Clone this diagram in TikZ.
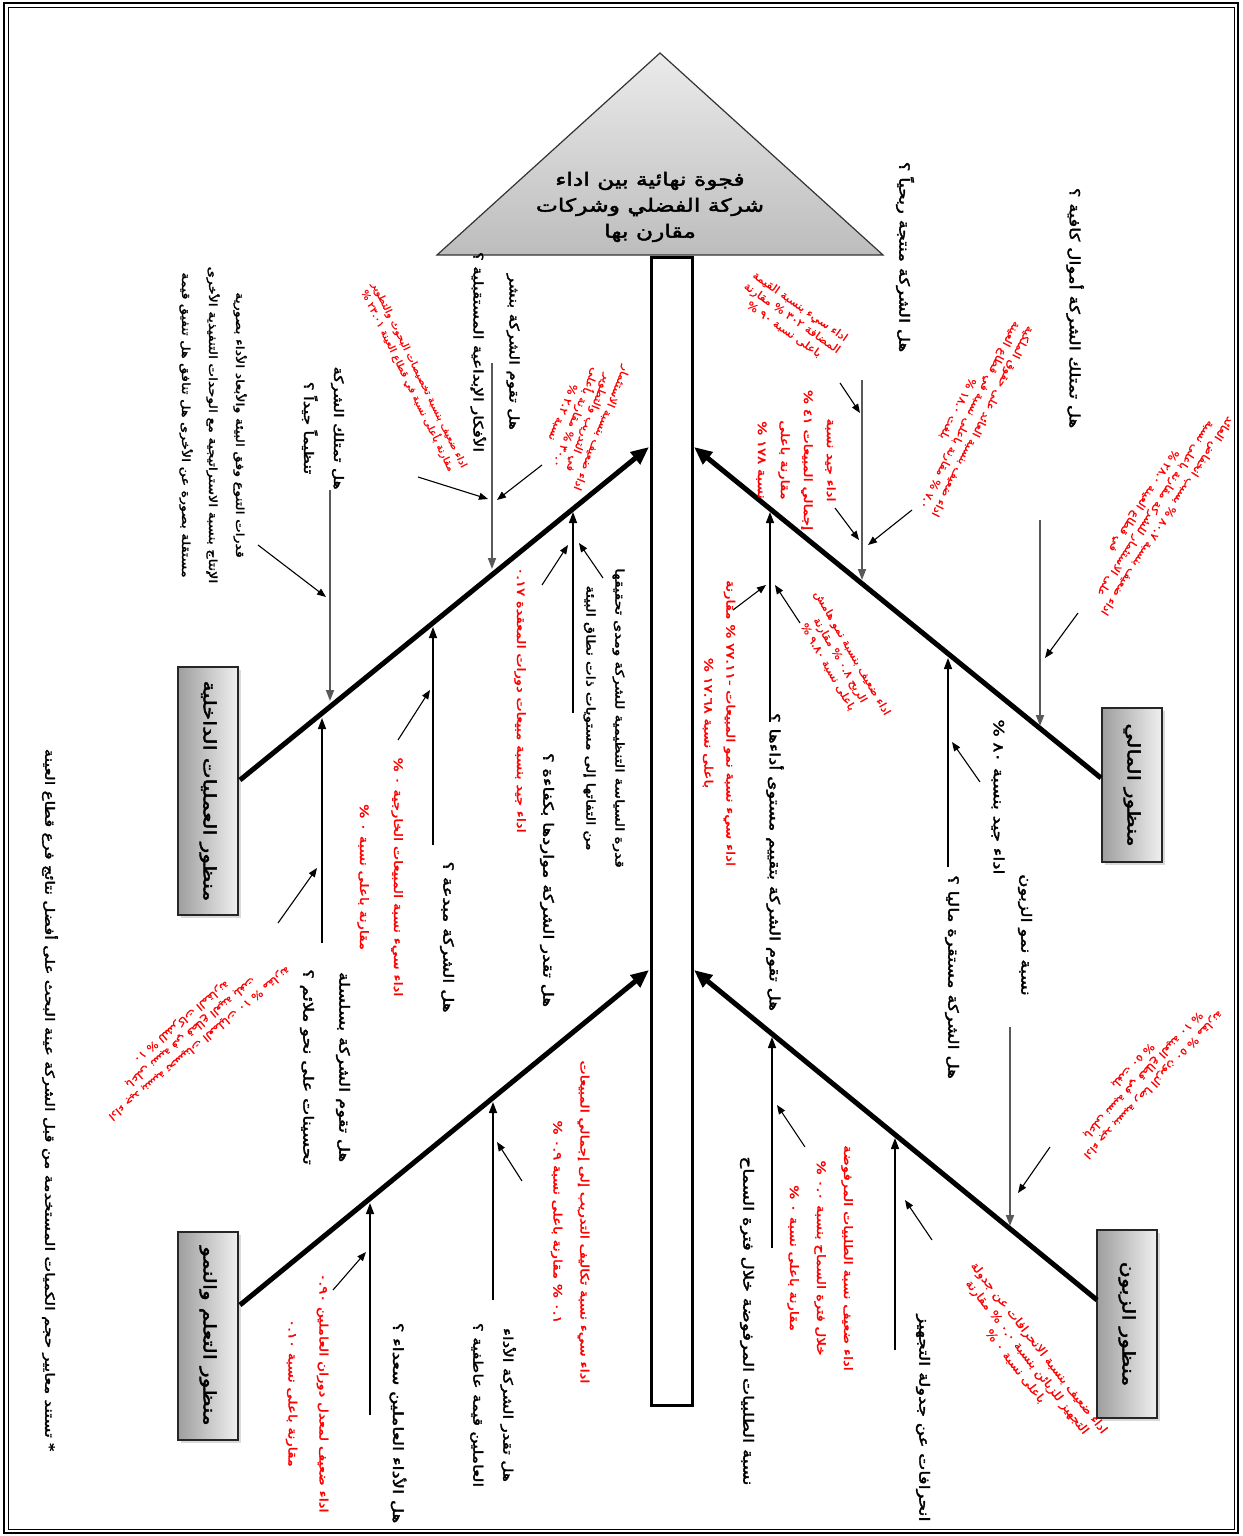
\documentclass[tikz,border=0pt]{standalone}
\usepackage{fontspec}
\usetikzlibrary{arrows.meta,shadows,calc}
\TeXXeTstate=1
\newfontfamily\arfont[Script=Arabic,FakeBold=0.8,FakeStretch=1.15]{DejaVu Sans}
\newfontfamily\arbfont[Script=Arabic,FakeBold=2.5,FakeStretch=1.3]{DejaVu Sans}
\newcommand{\AR}[1]{\beginR #1\endR}
\begin{document}
\begin{tikzpicture}[x=1pt,y=-1pt,
  blk/.style={font=\arbfont\fontsize{14}{32}\selectfont, align=center, inner sep=0pt, rotate=-90},
  redv/.style={font=\arbfont\fontsize{11.5}{25}\selectfont, text=red, align=center, inner sep=0pt, rotate=-90},
  redd/.style={font=\arfont\fontsize{10.5}{14}\selectfont, text=red, align=center, inner sep=0pt},
  bone/.style={line width=5pt, -{Triangle[length=18pt,width=15pt]}},
  rib/.style={line width=1.4pt, -{Triangle[length=11pt,width=8pt]}},
  grib/.style={rib, draw=black!65, line width=1.8pt},
  diag/.style={line width=1.1pt, -{Triangle[length=9pt,width=7pt]}},
  persp/.style={draw=black!85, line width=1.5pt, left color=black!38, right color=black!6,
    inner sep=0pt, font=\arbfont\fontsize{17}{20}\selectfont,
    drop shadow={opacity=0.3, shadow xshift=3pt, shadow yshift=-3pt}},
]
\useasboundingbox (0,0) rectangle (1242,1536);
% frame
\draw[line width=2.5pt] (4,3) rectangle (1238,1533);
\draw[line width=0.8pt] (8,7) rectangle (1234,1529);
% head
\path[draw=black!80, line width=1.2pt, top color=black!8, bottom color=black!26]
  (660,53) -- (883,255) -- (437,255) -- cycle;
\node[font=\arbfont\fontsize{18}{26}\selectfont, align=center, inner sep=0pt] (head) at (650,207)
  {\AR{فجوة نهائية بين اداء}\\ \AR{شركة الفضلي وشركات}\\ \AR{مقارن بها}};
% spine
\draw[line width=3pt, fill=white] (651,257) rectangle (692,1405);
% perspective boxes
\node[persp, minimum width=60pt, minimum height=154pt] (b1) at (1132,785) {\rotatebox{-90}{\AR{منظور المالي}}};
\node[persp, minimum width=60pt, minimum height=188pt] (b2) at (1127,1324) {\rotatebox{-90}{\AR{منظور الزبون}}};
\node[persp, minimum width=60pt, minimum height=248pt] (b3) at (208,791) {\rotatebox{-90}{\AR{منظور العمليات الداخلية}}};
\node[persp, minimum width=60pt, minimum height=208pt] (b4) at (208,1336) {\rotatebox{-90}{\AR{منظور التعلم والنمو}}};
% bones
\coordinate (ulS) at (240,780); \coordinate (ulE) at (649,447);
\coordinate (llS) at (240,1305); \coordinate (llE) at (649,970);
\coordinate (urS) at (1101,778); \coordinate (urE) at (694,447);
\coordinate (lrS) at (1097,1300); \coordinate (lrE) at (694,970);
\draw[bone] (ulS) -- (ulE);
\draw[bone] (llS) -- (llE);
\draw[bone] (urS) -- (urE);
\draw[bone] (lrS) -- (lrE);

% ---------- upper left ----------
\node[blk, font=\arbfont\fontsize{11}{27}\selectfont] (t1) at (213,425) {\AR{قدرات التنوع وفق البيئة والأبعاد الأداء بصورية}\\ \AR{الإنتاج بنسبة الاستراتيجية مع الوحدات التنفيذية الأخرى}\\ \AR{مستقلة بصورة عن الأخرى هل تنافق هل تنفيق قيمة}};
\node[blk, font=\arbfont\fontsize{13}{30}\selectfont] (t2) at (323,428) {\AR{هل تمتلك الشركة}\\ \AR{تنظيماً جيداً ؟}};
\node[blk, font=\arbfont\fontsize{13}{36}\selectfont] (t3) at (495,352) {\AR{هل تقوم الشركة بنشر}\\ \AR{الأفكار الإبداعية المستقبلية ؟}};
\node[redd, font=\arfont\fontsize{9.5}{13}\selectfont, rotate=-64] (r1) at (413,378) {\AR{اداء ضعيف بنسبة تخصيصات البحوث والتطوير}\\ \AR{مقارنة بأعلى نسبة في قطاع العينة ٢٣.٠١ \%}};
\node[redd, rotate=-112] (r2) at (582,420) {\AR{اداء ضعيف بنسبة الاستثمار}\\ \AR{في التدريب والتطوير}\\ \AR{٣٠.٠ \% مقارنة بأعلى}\\ \AR{نسبة ٢.٢ \%}};
\node[blk, font=\arbfont\fontsize{12}{29}\selectfont] (t4) at (604,718) {\AR{قدرة السياسة التنظيمية للشركة ومدى تحقيقها}\\ \AR{من التفاتها إلى مستويات ذات نطاق البيئة}};
\node[redv] (r3) at (520,700) {\AR{اداء جيد بنسبة مبيعات دورات المعقدة ٠.١٧}};
\node[blk] (t5) at (547,880) {\AR{هل تقدر الشركة مواردها بكفاءة ؟}};
\node[blk] (t6) at (447,937) {\AR{هل الشركة مبدعة ؟}};
\node[redv, font=\arbfont\fontsize{11.5}{34}\selectfont] (r4) at (380,877) {\AR{اداء سيء نسبة المبيعات الخارجية ٠ \%}\\ \AR{مقارنة باعلى نسبة ٠ \%}};
\node[blk, font=\arbfont\fontsize{14}{36}\selectfont] (t7) at (325,1067) {\AR{هل تقوم الشركة بسلسلة}\\ \AR{تحسينات على نحو ملائم ؟}};
\node[redd, rotate=-140] (r5) at (190,1032) {\AR{اداء جيد بنسبة تحسينات العمليات ١٠ \% مقارنة}\\ \AR{باعلى نسبة في قطاع العينة بلغت}\\ \AR{١٠ \% للشركات المقارنة}};

\coordinate (a1s) at (330,490); \coordinate (a1e) at (330,701);
\draw[grib] (a1s) -- (a1e);
\coordinate (d1s) at (258,545); \coordinate (d1e) at (326,597);
\draw[diag] (d1s) -- (d1e);
\coordinate (a2s) at (492,363); \coordinate (a2e) at (492,569);
\draw[grib] (a2s) -- (a2e);
\coordinate (d2s) at (418,477); \coordinate (d2e) at (488,499);
\coordinate (d3s) at (542,465); \coordinate (d3e) at (497,500);
\draw[diag] (d2s) -- (d2e); \draw[diag] (d3s) -- (d3e);
\coordinate (a3s) at (573,713); \coordinate (a3e) at (573,512);
\draw[rib] (a3s) -- (a3e);
\coordinate (d4s) at (542,585); \coordinate (d4e) at (568,545);
\coordinate (d5s) at (603,578); \coordinate (d5e) at (579,543);
\draw[diag] (d4s) -- (d4e); \draw[diag] (d5s) -- (d5e);
\coordinate (a4s) at (433,845); \coordinate (a4e) at (433,627);
\draw[rib] (a4s) -- (a4e);
\coordinate (d6s) at (398,740); \coordinate (d6e) at (430,690);
\draw[diag] (d6s) -- (d6e);
\coordinate (a5s) at (322,943); \coordinate (a5e) at (322,718);
\draw[rib] (a5s) -- (a5e);
\coordinate (d7s) at (278,923); \coordinate (d7e) at (317,868);
\draw[diag] (d7s) -- (d7e);

% ---------- lower left ----------
\node[blk, font=\arbfont\fontsize{13}{30}\selectfont] (t8) at (493,1405) {\AR{هل تقدر الشركة الأداء}\\ \AR{العاملين قيمة عاطفية ؟}};
\node[redv, font=\arbfont\fontsize{11.5}{27}\selectfont] (r6) at (570,1222) {\AR{اداء سيء نسبة تكاليف التدريب إلى إجمالي المبيعات}\\ \AR{٠.١ \% مقارنة باعلى نسبة ٠.٩ \%}};
\node[blk] (t9) at (398,1423) {\AR{هل الأداء العاملين سعداء ؟}};
\node[redv, font=\arbfont\fontsize{11.5}{31}\selectfont] (r7) at (307,1393) {\AR{اداء ضعيف لمعدل دوران العاملين ٠.٩٠}\\ \AR{مقارنة باعلى نسبة ٠.١٠}};
\node[blk, font=\arbfont\fontsize{12.8}{18}\selectfont] (note) at (50,1100) {\AR{* تستند معايير حجم الكميات المستخدمة من قبل الشركة عينة البحث على أفضل نتائج فرع قطاع العينة}};
\coordinate (a6s) at (493,1300); \coordinate (a6e) at (493,1102);
\draw[rib] (a6s) -- (a6e);
\coordinate (d8s) at (522,1181); \coordinate (d8e) at (497,1142);
\draw[diag] (d8s) -- (d8e);
\coordinate (a7s) at (370,1415); \coordinate (a7e) at (370,1203);
\draw[rib] (a7s) -- (a7e);
\coordinate (d9s) at (333,1290); \coordinate (d9e) at (366,1252);
\draw[diag] (d9s) -- (d9e);

% ---------- upper right ----------
\node[blk] (t10) at (905,257) {\AR{هل الشركة منتجة ربحياً ؟}};
\node[blk] (t11) at (1075,308) {\AR{هل تمتلك الشركة أموال كافية ؟}};
\node[redd, rotate=-35] (r8) at (792,318) {\AR{اداء سيء بنسبة القيمة}\\ \AR{المضافة ٣٠٢ \% مقارنة}\\ \AR{باعلى نسبة ٩٠ \%}};
\node[redv, font=\arbfont\fontsize{11.5}{23}\selectfont] (r9) at (796,460) {\AR{اداء جيد نسبة}\\ \AR{إجمالي المبيعات ٤١ \%}\\ \AR{مقارنة باعلى}\\ \AR{نسبة ١٧٨ \%}};
\node[redd, rotate=-117] (r10) at (970,415) {\AR{اداء ضعيف بنسبة العائد على حقوق الملكية}\\ \AR{٧.٠ \% مقارنة باعلى نسبة في قطاع العينة}\\ \AR{بلغت ١٨.٠ \%}};
\node[redd, rotate=-123] (r11) at (1155,508) {\AR{اداء ضعيف بنسبة ٨٠.٧ \% بسبب انخفاض العائد}\\ \AR{على الاستثمار للشركة مقارنة باعلى نسبة}\\ \AR{في قطاع العينة ٢٨.٠ \%}};
\node[blk] (t12) at (1025,935) {\AR{نسبة نمو الزبون}};
\node[blk] (t13) at (998,797) {\AR{اداء جيد بنسبة ٨٠ \%}};
\node[blk] (t14) at (952,977) {\AR{هل الشركة مستقرة ماليا ؟}};
\node[blk] (t15) at (775,862) {\AR{هل تقوم الشركة بتقييم مستوى أداءها ؟}};
\node[redv, font=\arbfont\fontsize{11.5}{22}\selectfont] (r12) at (719,723) {\AR{اداء سيء نسبة نمو المبيعات -٧٧.١١ \% مقارنة}\\ \AR{باعلى نسبة ١٧.٦٨ \%}};
\node[redd, rotate=-60] (r13) at (840,660) {\AR{اداء ضعيف بنسبة نمو هامش}\\ \AR{الربح ٠.٨ \% مقارنة}\\ \AR{باعلى نسبة ٩.٨٠ \%}};

\coordinate (a8s) at (862,380); \coordinate (a8e) at (862,580);
\draw[grib] (a8s) -- (a8e);
\coordinate (d10s) at (840,383); \coordinate (d10e) at (860,413);
\draw[diag] (d10s) -- (d10e);
\coordinate (d11s) at (835,508); \coordinate (d11e) at (859,540);
\coordinate (d12s) at (912,510); \coordinate (d12e) at (868,545);
\draw[diag] (d11s) -- (d11e); \draw[diag] (d12s) -- (d12e);
\coordinate (a9s) at (1040,520); \coordinate (a9e) at (1040,726);
\draw[grib] (a9s) -- (a9e);
\coordinate (d13s) at (1078,613); \coordinate (d13e) at (1045,658);
\draw[diag] (d13s) -- (d13e);
\coordinate (a10s) at (948,867); \coordinate (a10e) at (948,658);
\draw[rib] (a10s) -- (a10e);
\coordinate (d14s) at (980,782); \coordinate (d14e) at (952,742);
\draw[diag] (d14s) -- (d14e);
\coordinate (a11s) at (770,722); \coordinate (a11e) at (770,512);
\draw[rib] (a11s) -- (a11e);
\coordinate (d15s) at (733,610); \coordinate (d15e) at (766,585);
\coordinate (d16s) at (800,623); \coordinate (d16e) at (775,585);
\draw[diag] (d15s) -- (d15e); \draw[diag] (d16s) -- (d16e);

% ---------- lower right ----------
\node[redd, rotate=-133] (r14) at (1143,1075) {\AR{اداء جيد بنسبة رضا الزبون ٥٠ \% مقارنة}\\ \AR{باعلى نسبة في قطاع العينة ١٠ \%}\\ \AR{بلغت ٥٠ \%}};
\node[blk] (t16) at (923,1418) {\AR{انحرافات عن جدولة التجهيز}};
\node[redd, font=\arfont\fontsize{11.5}{15}\selectfont, rotate=-52] (r15) at (1027,1357) {\AR{اداء ضعيف بنسبة الانحرافات عن جدولة}\\ \AR{التجهيز للزبائن بنسبة ٠.٠ \% مقارنة}\\ \AR{باعلى نسبة ٠ \%}};
\node[redv, font=\arbfont\fontsize{11.5}{27}\selectfont] (r16) at (820,1258) {\AR{اداء ضعيف نسبة الطلبيات المرفوضة}\\ \AR{خلال فترة السماح بنسبة ٠.٠ \%}\\ \AR{مقارنة باعلى نسبة ٠ \%}};
\node[blk] (t17) at (747,1321) {\AR{نسبة الطلبيات المرفوضة خلال فترة السماح}};

\coordinate (a12s) at (1010,1027); \coordinate (a12e) at (1010,1226);
\draw[grib] (a12s) -- (a12e);
\coordinate (d17s) at (1050,1147); \coordinate (d17e) at (1018,1193);
\draw[diag] (d17s) -- (d17e);
\coordinate (a13s) at (895,1350); \coordinate (a13e) at (895,1138);
\draw[rib] (a13s) -- (a13e);
\coordinate (d18s) at (932,1240); \coordinate (d18e) at (905,1200);
\draw[diag] (d18s) -- (d18e);
\coordinate (a14s) at (772,1248); \coordinate (a14e) at (772,1037);
\draw[rib] (a14s) -- (a14e);
\coordinate (d19s) at (805,1147); \coordinate (d19e) at (777,1105);
\draw[diag] (d19s) -- (d19e);
\end{tikzpicture}
\end{document}
